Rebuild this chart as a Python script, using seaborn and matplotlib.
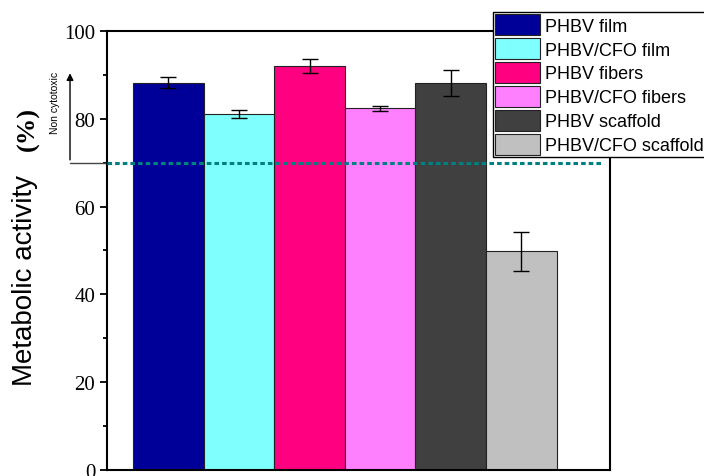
import numpy as np
import pandas as pd
import seaborn as sns
import matplotlib.pyplot as plt
from matplotlib.patches import Patch
from matplotlib.ticker import MultipleLocator
import matplotlib.transforms as mtransforms

samples = ["PHBV film", "PHBV/CFO film", "PHBV fibers", "PHBV/CFO fibers",
           "PHBV scaffold", "PHBV/CFO scaffold"]
activity = [88.2, 81.0, 92.0, 82.4, 88.2, 49.8]
activity_err = [1.3, 0.9, 1.6, 0.6, 3.0, 4.4]
colors = ["#000099", "#80FFFF", "#FF0080", "#FF80FF", "#404040", "#C0C0C0"]
threshold = 70

df = pd.DataFrame({"sample": samples, "activity": activity})

sns.set_style("ticks")
plt.rcParams["font.family"] = ["Liberation Sans", "DejaVu Sans"]
plt.rcParams["text.color"] = "black"
plt.rcParams["ytick.color"] = "black"
plt.rcParams["axes.labelcolor"] = "black"

fig, ax = plt.subplots(figsize=(7.04, 4.77), dpi=100)
fig.subplots_adjust(left=0.152, right=0.866, bottom=0.0126, top=0.933)

sns.barplot(data=df, x="sample", y="activity", hue="sample", palette=colors,
            saturation=1, width=1.0, dodge=False, errorbar=None, legend=False,
            edgecolor="#222222", linewidth=0.8, ax=ax)
ax.errorbar(x=np.arange(len(samples)), y=activity, yerr=activity_err, fmt="none",
            ecolor="black", elinewidth=1, capsize=6, capthick=1, zorder=5)

ax.axhline(threshold, xmin=0, xmax=0.985, color="#008080", lw=2.2,
           linestyle=(0, (1.5, 1)), zorder=6)

ax.set_xlim(-0.868, 6.25)
ax.set_ylim(0, 100)
ax.set_xticks([])
ax.set_xlabel("")
ax.set_ylabel("")
ax.yaxis.set_major_locator(MultipleLocator(20))
ax.yaxis.set_minor_locator(MultipleLocator(10))
ax.tick_params(axis="y", which="major", direction="out", length=5, width=1.3)
ax.tick_params(axis="y", which="minor", direction="out", length=3, width=1.3)
for lab in ax.get_yticklabels():
    lab.set_fontfamily("Liberation Serif")
    lab.set_fontsize(15)
    lab.set_color("black")
for sp in ax.spines.values():
    sp.set_visible(True)
    sp.set_linewidth(1.5)
    sp.set_color("black")

trans = mtransforms.blended_transform_factory(ax.transAxes, ax.transData)
ax.text(-0.163, 43.5, "Metabolic activity", rotation=90, ha="center", va="center",
        fontsize=20, color="black", transform=trans)
ax.text(-0.157, 78, "(%)", rotation=90, ha="center", va="center", fontsize=19,
        fontweight="bold", fontfamily="Liberation Serif", color="black", transform=trans)

ax.plot([0, -0.0736], [threshold, threshold], color="#444444", lw=1,
        transform=trans, clip_on=False)
ax.annotate("", xy=(-0.0736, 91), xytext=(-0.0736, threshold), xycoords=trans,
            textcoords=trans,
            arrowprops=dict(arrowstyle="-|>", color="black", lw=1, mutation_scale=10))
ax.text(-0.103, 83.8, "Non cytotoxic", rotation=90, ha="center", va="center",
        fontsize=7.5, color="black", transform=trans)

handles = [Patch(facecolor=c, edgecolor="#222222", linewidth=0.8) for c in colors]
leg = fig.legend(handles, samples, loc="upper left",
                 bbox_to_anchor=(493 / 704, 1 - 13 / 477), bbox_transform=fig.transFigure,
                 fontsize=13, handlelength=2.5, handleheight=1.4, labelspacing=0.17,
                 handletextpad=0.28, borderpad=0.12, borderaxespad=0,
                 fancybox=False, framealpha=1, edgecolor="black", labelcolor="black")
leg.get_frame().set_linewidth(1)

plt.savefig("out.png", dpi=100)
